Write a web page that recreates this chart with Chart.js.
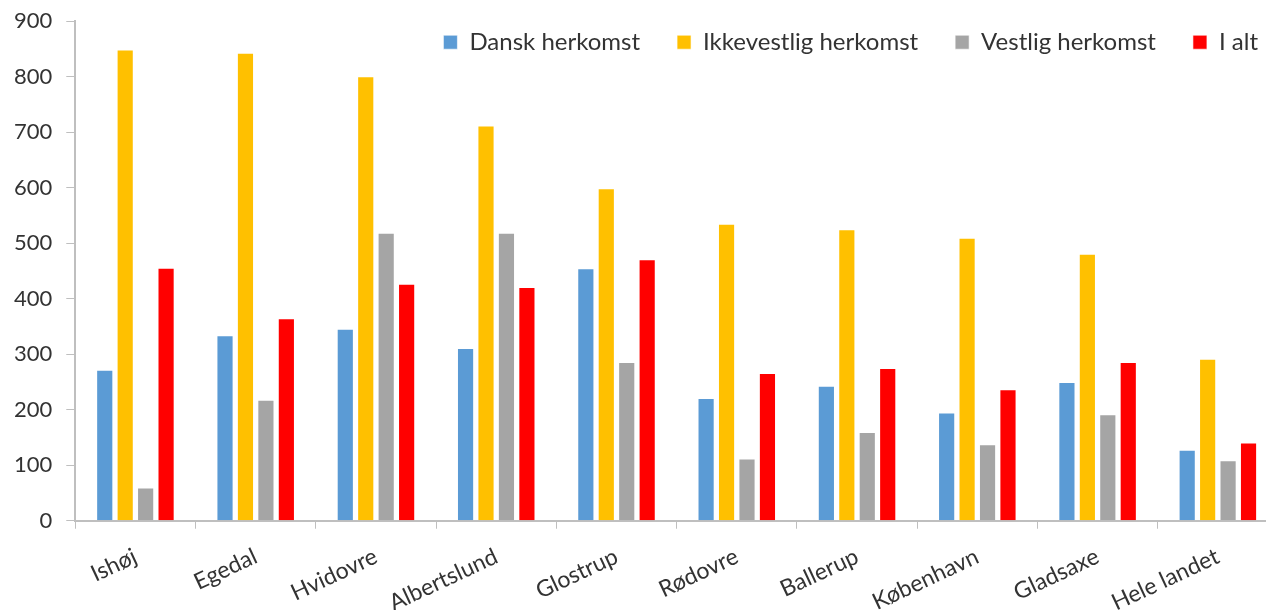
<!DOCTYPE html>
<html>
<head>
<meta charset="utf-8">
<script src="https://cdn.jsdelivr.net/npm/chart.js@4/dist/chart.umd.min.js"></script>
<style>
    html, body { margin: 0; padding: 0; background: #fff; overflow: hidden; }
    #barChart { position: absolute; left: 0; top: -6px; }
</style>
</head>
<body>
<canvas id="barChart" width="1278" height="628"></canvas>
<script>
const kommuner = ['Ishøj', 'Egedal', 'Hvidovre', 'Albertslund', 'Glostrup', 'Rødovre', 'Ballerup', 'København', 'Gladsaxe', 'Hele landet'];
const dansk = [272, 334, 346, 311, 455, 221, 243, 195, 250, 128];
const ikkevestlig = [849, 843, 801, 712, 599, 535, 525, 510, 481, 292];
const vestlig = [60, 218, 519, 519, 286, 112, 160, 138, 192, 109];
const iAlt = [456, 365, 427, 421, 471, 266, 275, 237, 286, 141];

const txt = '#333333';
const axisGrey = '#bfbfbf';
const fontFam = 'Lato';

const mkSet = (label, data, color) => ({
    label: label,
    data: data,
    backgroundColor: color,
    borderColor: 'rgba(255,255,255,0.6)',
    borderWidth: 1,
    barPercentage: 0.84,
    categoryPercentage: 0.68
});

// legend sits inside the plot, top right, and takes no layout space
const legendInside = {
    id: 'legendInside',
    beforeUpdate(chart) {
        if (chart.legend && !chart.legend._patched) {
            const fit = chart.legend.fit;
            chart.legend.fit = function () { fit.call(this); this.height = 0; };
            chart.legend._patched = true;
        }
    },
    afterLayout(chart) {
        const lg = chart.legend;
        lg.top -= 28;
        lg.bottom = lg.top + 90; // legend clips to its own box
        lg.right += 17;
    }
};

new Chart(document.getElementById('barChart'), {
    type: 'bar',
    data: {
        labels: kommuner,
        datasets: [
            mkSet('Dansk herkomst', dansk, '#5B9BD5'),
            mkSet('Ikkevestlig herkomst', ikkevestlig, '#FFC000'),
            mkSet('Vestlig herkomst', vestlig, '#A5A5A5'),
            mkSet('I alt', iAlt, '#FF0000')
        ]
    },
    plugins: [legendInside],
    options: {
        responsive: false,
        animation: false,
        layout: { padding: { left: 0, top: 5, right: 0, bottom: -9 } },
        scales: {
            x: {
                grid: { display: true, drawOnChartArea: false, color: axisGrey, tickLength: 8, offset: true },
                border: { color: axisGrey, width: 2 },
                ticks: {
                    color: txt,
                    font: { family: fontFam, size: 23 },
                    minRotation: 25,
                    maxRotation: 25,
                    autoSkip: false,
                    padding: 14
                }
            },
            y: {
                min: 0,
                max: 900,
                grid: { display: true, drawOnChartArea: false, color: axisGrey, tickLength: 9 },
                border: { color: axisGrey, width: 2 },
                ticks: {
                    stepSize: 100,
                    color: txt,
                    font: { family: fontFam, size: 22 },
                    padding: 14
                }
            }
        },
        plugins: {
            legend: {
                position: 'top',
                align: 'end',
                labels: {
                    color: txt,
                    font: { family: fontFam, size: 24 },
                    boxWidth: 14,
                    boxHeight: 14,
                    padding: 37
                }
            },
            tooltip: { enabled: false }
        }
    }
});
</script>
</body>
</html>
